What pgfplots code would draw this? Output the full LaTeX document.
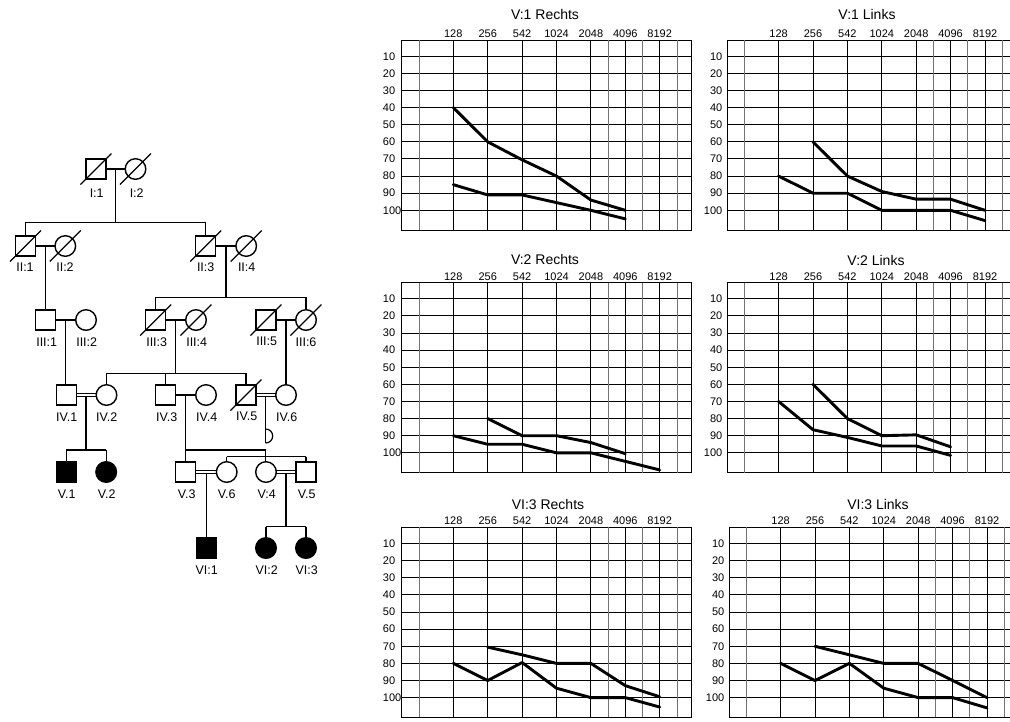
\documentclass[border=0pt]{standalone}
\usepackage{fontspec}
\setmainfont{Liberation Sans}
\usepackage{pgfplots}
\pgfplotsset{compat=1.18}

\pgfplotsset{
  audio/.style={
    scale only axis, height=190pt,
    xmin=-0.5, ymin=0.5, ymax=111.5, y dir=reverse,
    xtick={1,2,3,4,5,6,7},
    xticklabels={128,256,542,1024,2048,4096,8192},
    xticklabel pos=right,
    extra x ticks={0,5.5,6.5,7.5},
    extra x tick labels={,,,},
    extra x tick style={grid=major, major grid style={line width=0.7pt, black!55}},
    ytick={10,20,...,100},
    major tick length=0pt,
    grid=major,
    major grid style={line width=1pt, black},
    axis line style={line width=0.9pt, black},
    /pgf/number format/assume math mode=true,
    tick label style={font=\fontsize{11}{12}\selectfont},
    xticklabel style={anchor=base, inner sep=0pt, yshift=2.5pt},
    clip=false,
  },
  laudio/.style={audio, width=290pt, xmax=7.93,
    yticklabel style={anchor=west, inner sep=0pt, xshift=-19pt}},
  raudio/.style={audio,
    yticklabel style={anchor=east, inner sep=0pt, xshift=-4.5pt}},
  pl/.style={black, line width=1.2pt, mark=none},
  dl/.style={black, line width=2.9pt, line join=round, line cap=round, mark=none},
}
\newcommand{\seg}[1]{\addplot[pl] coordinates {#1};}
\newcommand{\ttl}[3]{\node[anchor=base, inner sep=0pt, font=\fontsize{14}{16}\selectfont] at (#1pt,-#2pt) {#3};}

\begin{document}
\begin{tikzpicture}[x=1pt,y=1pt]
\path[use as bounding box] (0,0) rectangle (1010,-721);

% ---------------- pedigree ----------------
\begin{axis}[at={(0pt,0pt)}, anchor=north west, scale only axis,
  width=370pt, height=721pt, xmin=0, xmax=370, ymin=0, ymax=721,
  y dir=reverse, hide axis, clip=false]
% lines
\seg{(106,169) (125.2,169)}
\seg{(115.5,169) (115.5,222.3)}
\seg{(25.5,222.3) (205.7,222.3)}
\seg{(25.5,222.3) (25.5,236)}
\seg{(205.7,222.3) (205.7,236)}
\seg{(35.5,246) (55,246)}
\seg{(215.7,246) (236,246)}
\seg{(45.5,246) (45.5,310)}
\seg{(226,246) (226,297.3)}
\seg{(155.7,297.3) (306,297.3)}
\seg{(155.7,297.3) (155.7,310)}
\seg{(306,297.3) (306,309.7)}
\seg{(55.5,320) (75.7,320)}
\seg{(165.7,320) (185.7,320)}
\seg{(276,320) (295.7,320)}
\seg{(65.7,320) (65.7,385)}
\seg{(175.7,320) (175.7,373.3)}
\seg{(106.5,373.3) (246,373.3)}
\seg{(106.5,373.3) (106.5,384.7)}
\seg{(165.7,373.3) (165.7,385)}
\seg{(246,373.3) (246,385)}
\seg{(286,320) (286,384.7)}
\seg{(76.5,393.5) (96.2,393.5)}
\seg{(76.5,396.7) (96.2,396.7)}
\seg{(86,396.7) (86,450)}
\seg{(66.2,450) (106.2,450)}
\seg{(66.2,450) (66.2,462)}
\seg{(106.2,450) (106.2,461.7)}
\seg{(175.7,395) (195.7,395)}
\seg{(185.7,395) (185.7,462)}
\seg{(185.7,450) (265.7,450)}
\seg{(265.7,450) (265.7,461.7)}
\seg{(256,393.5) (275.7,393.5)}
\seg{(256,396.7) (275.7,396.7)}
\seg{(265.7,396.7) (265.7,443)}
\draw[black, line width=1.2pt] (axis cs:265.7,443) arc[start angle=90, end angle=-90, radius=7];
\seg{(226.7,456.7) (306,456.7)}
\seg{(226.7,456.7) (226.7,461.7)}
\seg{(306,456.7) (306,462)}
\seg{(195.7,470.5) (216.4,470.5)}
\seg{(195.7,473.7) (216.4,473.7)}
\seg{(206.5,473.7) (206.5,538)}
\seg{(276.3,470.5) (296,470.5)}
\seg{(276.3,473.7) (296,473.7)}
\seg{(286,473.7) (286,526.7)}
\seg{(266,526.7) (306,526.7)}
\seg{(266,526.7) (266,537.7)}
\seg{(306,526.7) (306,537.7)}
% symbols
\addplot[only marks, mark=square, mark size=10pt, mark options={line width=1.4pt, draw=black}]
  coordinates {(96,169) (25.5,246) (205.7,246) (45.5,320) (155.7,320) (266,320) (66.5,395) (165.7,395) (246,395) (185.7,472) (306,472)};
\addplot[only marks, mark=o, mark size=10.3pt, mark options={line width=1.4pt, draw=black}]
  coordinates {(135.5,169) (65.3,246) (246.2,246) (86,320) (196,320) (306,320) (106.5,395) (206,395) (286,395) (226.7,472) (266,472)};
\addplot[only marks, mark=square*, mark size=10pt, mark options={line width=1.4pt, draw=black, fill=black}]
  coordinates {(66.2,472) (206.5,548)};
\addplot[only marks, mark=*, mark size=10.3pt, mark options={line width=1.4pt, draw=black, fill=black}]
  coordinates {(106.2,472) (266,548) (306,548)};
% deceased slashes
\seg{(80.5,184.5) (111.5,153.5)}
\seg{(120,184.5) (151,153.5)}
\seg{(10,261.5) (41,230.5)}
\seg{(49.8,261.5) (80.8,230.5)}
\seg{(190.2,261.5) (221.2,230.5)}
\seg{(230.7,261.5) (261.7,230.5)}
\seg{(140.2,335.5) (171.2,304.5)}
\seg{(180.5,335.5) (211.5,304.5)}
\seg{(250.5,335.5) (281.5,304.5)}
\seg{(290.5,335.5) (321.5,304.5)}
\seg{(230.5,410.5) (261.5,379.5)}
% labels
\begin{scope}[every node/.style={font=\fontsize{12.5}{14}\selectfont, inner sep=0pt, anchor=center}]
\node at (axis cs:96.7,193.3) {I:1};
\node at (axis cs:136.7,193.3) {I:2};
\node at (axis cs:25,267.3) {II:1};
\node at (axis cs:65,267.3) {II:2};
\node at (axis cs:205.7,267.3) {II:3};
\node at (axis cs:246.7,267.3) {II:4};
\node at (axis cs:46.7,341.7) {III:1};
\node at (axis cs:86.7,341.7) {III:2};
\node at (axis cs:156.7,341.7) {III:3};
\node at (axis cs:196.7,341.7) {III:4};
\node at (axis cs:266.7,341.7) {III:5};
\node at (axis cs:306,341.7) {III:6};
\node at (axis cs:66.7,416.7) {IV.1};
\node at (axis cs:106.7,416.7) {IV.2};
\node at (axis cs:166.7,416.7) {IV.3};
\node at (axis cs:206.7,416.7) {IV.4};
\node at (axis cs:246.7,416.7) {IV.5};
\node at (axis cs:286.7,416.7) {IV.6};
\node at (axis cs:66.7,494.3) {V.1};
\node at (axis cs:106.7,494.3) {V.2};
\node at (axis cs:186.7,494.3) {V.3};
\node at (axis cs:226.7,494.3) {V.6};
\node at (axis cs:266.7,494.3) {V:4};
\node at (axis cs:306.7,494.3) {V.5};
\node at (axis cs:206.7,570) {VI:1};
\node at (axis cs:266.7,570) {VI:2};
\node at (axis cs:306.7,570) {VI:3};
\end{scope}
\end{axis}

% ---------------- audiograms ----------------
% V:1 Rechts
\begin{axis}[laudio, at={(401.7pt,-40pt)}, anchor=north west]
\addplot[dl] coordinates {(1,40) (2,60) (3,70.5) (4,80) (5,94) (6,100)};
\addplot[dl] coordinates {(1,85) (2,91) (3,91) (4,95.5) (5,100) (6,105)};
\end{axis}
% V:1 Links
\begin{axis}[raudio, width=283.5pt, xmax=7.741, at={(727pt,-40pt)}, anchor=north west]
\addplot[dl] coordinates {(2,60) (3,80) (4,89) (5,93.5) (6,93.5) (7,100)};
\addplot[dl] coordinates {(1,80) (2,90) (3,90) (4,100) (5,100) (6,100) (7,106)};
\end{axis}
% V:2 Rechts
\begin{axis}[laudio, at={(401.7pt,-282.5pt)}, anchor=north west]
\addplot[dl] coordinates {(2,80) (3,90) (4,90) (5,94) (6,100.5)};
\addplot[dl] coordinates {(1,90) (2,95) (3,95) (4,100) (5,100) (6,105) (7,110)};
\end{axis}
% V:2 Links
\begin{axis}[raudio, width=283.5pt, xmax=7.741, at={(727pt,-282.5pt)}, anchor=north west]
\addplot[dl] coordinates {(2,60) (3,80) (4,90) (5,89.5) (6,96.5)};
\addplot[dl] coordinates {(1,70) (2,86.5) (3,91) (4,96) (5,96) (6,101.5)};
\end{axis}
% VI:3 Rechts
\begin{axis}[laudio, at={(401.7pt,-527.3pt)}, anchor=north west]
\addplot[dl] coordinates {(2,70.5) (3,75) (4,80) (5,80) (6,93) (7,99.5)};
\addplot[dl] coordinates {(1,80) (2,90) (3,79.5) (4,94.5) (5,100) (6,100) (7,105.5)};
\end{axis}
% VI:3 Links
\begin{axis}[raudio, width=281.5pt, xmax=7.683, at={(729pt,-527.3pt)}, anchor=north west]
\addplot[dl] coordinates {(2,70) (3,75) (4,80) (5,80) (6,90) (7,100)};
\addplot[dl] coordinates {(1,80) (2,90) (3,80) (4,94.5) (5,100) (6,100) (7,106)};
\end{axis}

% titles
\ttl{545}{19.5}{V:1 Rechts}
\ttl{867}{19.5}{V:1 Links}
\ttl{545}{264.5}{V:2 Rechts}
\ttl{876}{265}{V:2 Links}
\ttl{548}{509}{VI:3 Rechts}
\ttl{878}{509}{VI:3 Links}
\end{tikzpicture}
\end{document}
